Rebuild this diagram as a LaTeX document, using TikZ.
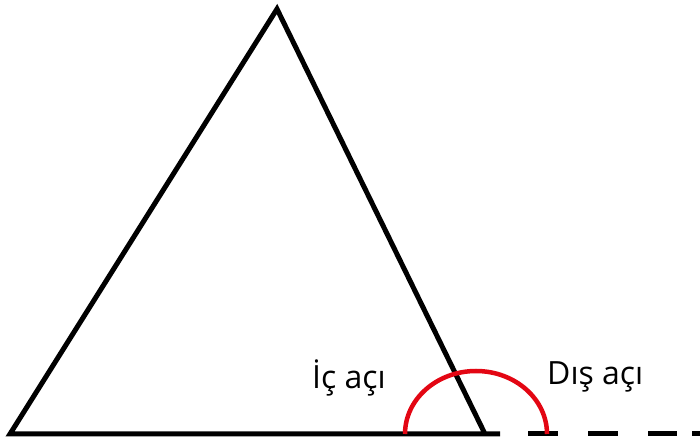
\documentclass[tikz,border=0pt]{standalone}
\usepackage{fontspec}
\setmainfont{Open Sans}
\definecolor{arcred}{RGB}{227,6,19}
\tikzset{
  edge/.style={line width=5pt, line join=miter, black},
  dashseg/.style={line width=5pt, black},
  anglearc/.style={line width=4.5pt, arcred},
  lbl/.style={anchor=base west, inner sep=0pt, font=\fontsize{32}{38}\selectfont}
}
\begin{document}
\begin{tikzpicture}[x=1pt,y=1pt]
\useasboundingbox (0,0) rectangle (700,443);
\coordinate (A) at (277,434);
\coordinate (L) at (10,9);
\coordinate (R) at (485,9);
\coordinate (E) at (500,9);
\coordinate (C) at (476,9);
\coordinate (d1a) at (528,9); \coordinate (d1b) at (558,9);
\coordinate (d2a) at (588,9); \coordinate (d2b) at (618,9);
\coordinate (d3a) at (648,9); \coordinate (d3b) at (677,9);
\coordinate (d4a) at (692,9); \coordinate (d4b) at (702,9);
\draw[edge] (R) -- (A) -- (L) -- (E);
\draw[dashseg] (d1a) -- (d1b);
\draw[dashseg] (d2a) -- (d2b);
\draw[dashseg] (d3a) -- (d3b);
\draw[dashseg] (d4a) -- (d4b);
\draw[anglearc] ([xshift=-71pt]C) arc[start angle=180, end angle=0, x radius=71pt, y radius=63pt];
\node[lbl] (ic) at (312,54) {İç açı};
\node[lbl] (dis) at (547,58) {Dış açı};
\end{tikzpicture}
\end{document}
